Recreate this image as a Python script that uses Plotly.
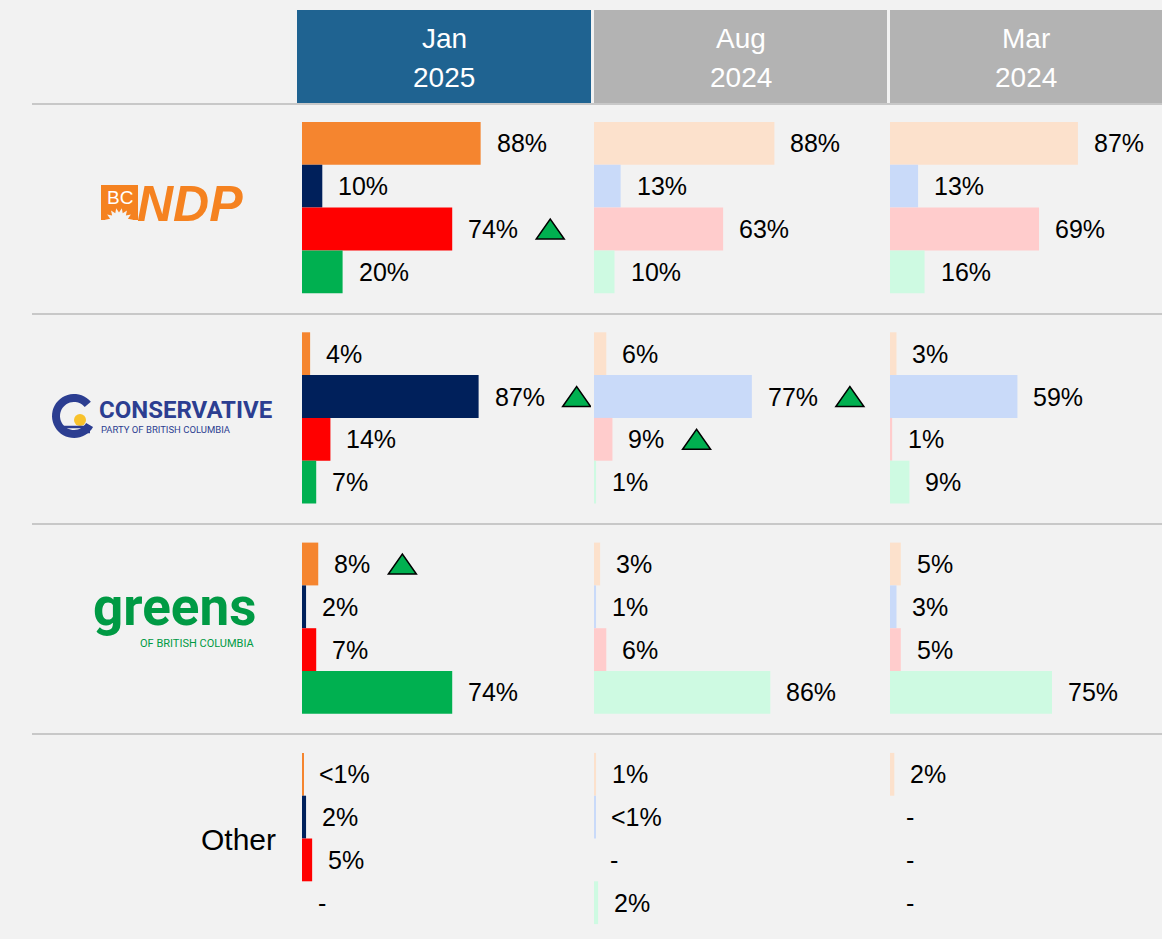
import numpy as np
import plotly.graph_objects as go

# ---------------- data ----------------
column_months = ["Jan", "Aug", "Mar"]
column_years = ["2025", "2024", "2024"]
row_labels = ["BC NDP", "Conservative", "Greens", "Other"]
series_keys = ["orange", "navy", "red", "green"]

# values per column, per series, rows = NDP, Conservative, Greens, Other
# None = "-" (no value); 0.5 = "<1%"
jan_orange = [88, 4, 8, 0.5]
jan_navy = [10, 87, 2, 2]
jan_red = [74, 14, 7, 5]
jan_green = [20, 7, 74, None]

aug_orange = [88, 6, 3, 1]
aug_navy = [13, 77, 1, 0.5]
aug_red = [63, 9, 6, None]
aug_green = [10, 1, 86, 2]

mar_orange = [87, 3, 5, 2]
mar_navy = [13, 59, 3, None]
mar_red = [69, 1, 5, None]
mar_green = [16, 9, 75, None]

# significant increase markers
jan_up_orange = [False, False, True, False]
jan_up_navy = [False, True, False, False]
jan_up_red = [True, False, False, False]
jan_up_green = [False, False, False, False]
aug_up_orange = [False, False, False, False]
aug_up_navy = [False, True, False, False]
aug_up_red = [False, True, False, False]
aug_up_green = [False, False, False, False]
mar_up_orange = [False, False, False, False]
mar_up_navy = [False, False, False, False]
mar_up_red = [False, False, False, False]
mar_up_green = [False, False, False, False]

columns_data = [
    [jan_orange, jan_navy, jan_red, jan_green],
    [aug_orange, aug_navy, aug_red, aug_green],
    [mar_orange, mar_navy, mar_red, mar_green],
]
columns_up = [
    [jan_up_orange, jan_up_navy, jan_up_red, jan_up_green],
    [aug_up_orange, aug_up_navy, aug_up_red, aug_up_green],
    [mar_up_orange, mar_up_navy, mar_up_red, mar_up_green],
]

# ---------------- styling / layout ----------------
W, H = 1162, 939
BG = "#F2F2F2"
FONT = "Liberation Sans"
LABEL_SIZE = 25
CUR_COLORS = ["#F5852F", "#00205B", "#FF0000", "#00B050"]
PALE_COLORS = ["#FCE1CC", "#C9DAF9", "#FFCCCC", "#CEFAE2"]
HEADER_COLORS = ["#1F6391", "#B3B3B3", "#B3B3B3"]

# column geometry (pixels): bar start, right edge, px per percent
col_x0 = [302, 594, 890]
col_x1 = [591, 887, 1162]
col_scale = [2.03, 2.05, 2.16]
head_x0 = [297, 594, 890]
head_x1 = [591, 887, 1162]

ROW_TOP0 = 122.0
ROW_PITCH = 210.3
SLOT = 42.8


def px(x):
    return x / W


def py(y):
    return 1 - y / H


def fmt(v):
    if v is None:
        return "-"
    if v < 1:
        return "<1%"
    return f"{v:g}%"


CHAR_W = {"<": 0.584, "%": 0.889, "-": 0.333}


def text_width(s, size):
    return sum(CHAR_W.get(c, 0.556) for c in s) * size


fig = go.Figure()
annotations = []
shapes = []

y_centers = [[ROW_TOP0 + r * ROW_PITCH + (b + 0.5) * SLOT for r in range(4)] for b in range(4)]

for c in range(3):
    xa = "x" if c == 0 else f"x{c + 1}"
    colors = CUR_COLORS if c == 0 else PALE_COLORS
    for s in range(4):
        vals = columns_data[c][s]
        fig.add_trace(go.Bar(
            x=vals, y=y_centers[s], orientation="h", width=SLOT,
            marker=dict(color=colors[s], line=dict(width=0)),
            xaxis=xa, yaxis="y", name=series_keys[s], hoverinfo="skip",
        ))
        for r in range(4):
            v = vals[r]
            lab = fmt(v)
            xv = v if v is not None else 0
            annotations.append(dict(
                x=xv, y=y_centers[s][r], xref=xa, yref="y", text=lab,
                xanchor="left", yanchor="middle", xshift=14, showarrow=False,
                font=dict(family=FONT, size=LABEL_SIZE, color="#000000"),
            ))
            if columns_up[c][s][r]:
                cx = 16 + text_width(lab, LABEL_SIZE) + 18 + 14
                shapes.append(dict(
                    type="path", xref=xa, yref="y", xsizemode="pixel", ysizemode="pixel",
                    xanchor=xv, yanchor=y_centers[s][r],
                    path=f"M {cx - 14},-10 L {cx + 14},-10 L {cx},10 Z",
                    fillcolor="#00B050", line=dict(color="#000000", width=1.5), layer="above",
                ))

# headers
for c in range(3):
    shapes.append(dict(type="rect", xref="paper", yref="paper",
                       x0=px(head_x0[c]), x1=px(head_x1[c]), y0=py(104), y1=py(10),
                       fillcolor=HEADER_COLORS[c], line=dict(width=0), layer="below"))
    for txt, yy in [(column_months[c], 38), (column_years[c], 77)]:
        annotations.append(dict(x=px((head_x0[c] + head_x1[c]) / 2), y=py(yy), xref="paper", yref="paper",
                                text=txt, showarrow=False, xanchor="center", yanchor="middle",
                                font=dict(family=FONT, size=28, color="#FFFFFF")))

# separators
for yl in [104, 314, 524, 734]:
    shapes.append(dict(type="line", xref="paper", yref="paper", x0=px(32), x1=1, y0=py(yl), y1=py(yl),
                       line=dict(color="#C8C8C8", width=2), layer="below"))

# ---- logos (drawn as text + simple shapes) ----
NDP_OR = "#F58220"
shapes.append(dict(type="rect", xref="paper", yref="paper", x0=px(101), x1=px(138), y0=py(220), y1=py(185),
                   fillcolor=NDP_OR, line=dict(width=0)))
# white sunburst notch at the bottom of the BC box
ang = np.linspace(np.pi * 0.05, np.pi * 0.95, 15)
sun_pts = []
for i, a in enumerate(ang):
    rr = 14.0 if i % 2 == 0 else 9.5
    sun_pts.append((119 + rr * np.cos(a + np.pi * 0.0), 222 - rr * np.sin(a)))
sun_pts = [(119 + 15, 222)] + sun_pts + [(119 - 15, 222)]
sun_path = "M " + " L ".join(f"{px(x):.5f},{py(y):.5f}" for x, y in sun_pts) + " Z"
shapes.append(dict(type="path", xref="paper", yref="paper", path=sun_path, fillcolor=BG, line=dict(width=0)))
shapes.append(dict(type="rect", xref="paper", yref="paper", x0=px(100), x1=px(139), y0=py(226), y1=py(220.5),
                   fillcolor=BG, line=dict(width=0)))
annotations.append(dict(x=px(119.5), y=py(197), xref="paper", yref="paper", text="BC", showarrow=False,
                        font=dict(family=FONT, size=19, color="#FFFFFF"), xanchor="center", yanchor="middle"))
annotations.append(dict(x=px(135), y=py(204), xref="paper", yref="paper", text="<b><i>NDP</i></b>",
                        showarrow=False, font=dict(family=FONT, size=50, color=NDP_OR),
                        xanchor="left", yanchor="middle"))

CON_NAVY = "#2C3E91"
# "C" ring as polygon
th = np.linspace(np.deg2rad(40), np.deg2rad(330), 40)
cx0, cy0, ro, ri = 74.0, 416.0, 22.0, 14.0
outer = [(cx0 + ro * np.cos(t), cy0 - ro * np.sin(t)) for t in th]
inner = [(cx0 + ri * np.cos(t), cy0 - ri * np.sin(t)) for t in th[::-1]]
pts = outer + inner
path = "M " + " L ".join(f"{px(x):.5f},{py(y):.5f}" for x, y in pts) + " Z"
shapes.append(dict(type="path", xref="paper", yref="paper", path=path, fillcolor=CON_NAVY, line=dict(width=0)))
shapes.append(dict(type="circle", xref="paper", yref="paper", x0=px(74), x1=px(86), y0=py(426), y1=py(414),
                   fillcolor="#F8C22C", line=dict(width=0)))
for wy in [427, 432]:
    shapes.append(dict(type="line", xref="paper", yref="paper", x0=px(63), x1=px(90), y0=py(wy), y1=py(wy),
                       line=dict(color=CON_NAVY, width=2.5)))
annotations.append(dict(x=px(97), y=py(410), xref="paper", yref="paper", text="<b>CONSERVATIVE</b>",
                        showarrow=False, font=dict(family="Roboto", size=24, color=CON_NAVY),
                        xanchor="left", yanchor="middle"))
annotations.append(dict(x=px(99), y=py(429), xref="paper", yref="paper", text="PARTY OF BRITISH COLUMBIA",
                        showarrow=False, font=dict(family="Roboto", size=9.5, color=CON_NAVY),
                        xanchor="left", yanchor="middle"))

GRN = "#009A44"
annotations.append(dict(x=px(91), y=py(607), xref="paper", yref="paper", text="<b>greens</b>",
                        showarrow=False, font=dict(family="Roboto", size=53, color=GRN),
                        xanchor="left", yanchor="middle"))
annotations.append(dict(x=px(257), y=py(643), xref="paper", yref="paper", text="OF BRITISH COLUMBIA",
                        showarrow=False, font=dict(family="Roboto", size=11, color=GRN),
                        xanchor="right", yanchor="middle"))

annotations.append(dict(x=px(278), y=py(839), xref="paper", yref="paper", text="Other",
                        showarrow=False, font=dict(family=FONT, size=30, color="#000000"),
                        xanchor="right", yanchor="middle"))

axis_common = dict(visible=False, fixedrange=True, showgrid=False, zeroline=False)
layout_axes = {}
for c in range(3):
    name = "xaxis" if c == 0 else f"xaxis{c + 1}"
    width_px = col_x1[c] - col_x0[c]
    layout_axes[name] = dict(domain=[px(col_x0[c]), px(col_x1[c])], range=[0, width_px / col_scale[c]],
                             anchor="y", **axis_common)

fig.update_layout(
    width=W, height=H, autosize=False,
    margin=dict(l=0, r=0, t=0, b=0, pad=0),
    paper_bgcolor=BG, plot_bgcolor="rgba(0,0,0,0)",
    showlegend=False, barmode="overlay",
    yaxis=dict(domain=[0, 1], range=[H, 0], **axis_common),
    annotations=annotations, shapes=shapes,
    **layout_axes,
)

fig.write_html(
    "out.html",
    config={"displayModeBar": False},
    post_script="document.body.style.margin='0';document.body.style.background='#F2F2F2';"
                "document.body.style.overflow='hidden';",
)
